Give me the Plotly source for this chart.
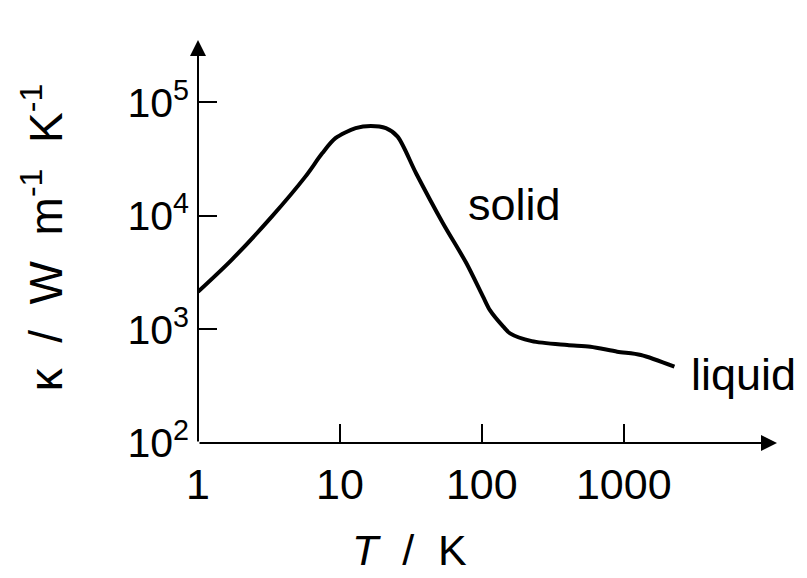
import plotly.graph_objects as go

# Data (log-log)
T_K = [1, 1.72, 3.31, 5.71, 7.5, 9.3, 12.9, 16.5, 21.1, 25.5, 34.4, 53.2, 77.9,
       102, 114, 141.7, 158, 225, 400, 583, 900, 1321, 2275]
kappa = [2150, 4090, 9860, 22200, 35600, 48400, 59300, 62100, 59300, 50000, 23800,
         8630, 3830, 1946, 1480, 1059, 925, 790, 730, 705, 637, 596, 470]

x_labelvals = [1, 10, 100, 1000]
x_ticktext = ["1", "10", "100", "1000"]
y_labelvals = [1e2, 1e3, 1e4, 1e5]
y_ticktext = ["10<sup>2</sup>", "10<sup>3</sup>", "10<sup>4</sup>", "10<sup>5</sup>"]

FONT = "Liberation Sans, Arial, Helvetica, sans-serif"

fig = go.Figure()
fig.add_trace(go.Scatter(x=T_K, y=kappa, mode="lines",
                         line=dict(color="black", width=4, shape="spline", smoothing=0.8),
                         showlegend=False, hoverinfo="skip"))

fig.update_layout(
    width=807, height=578,
    margin=dict(l=198, r=30, t=40, b=135),
    paper_bgcolor="white", plot_bgcolor="white",
    font=dict(family=FONT, color="black"),
    xaxis=dict(type="log", range=[0, 4.08], showgrid=False, zeroline=False,
               showline=False, ticks="inside", ticklen=19, tickwidth=1.5,
               tickcolor="black", tickvals=x_labelvals, ticktext=x_ticktext,
               tickfont=dict(size=43, family=FONT), ticklabelstandoff=12),
    yaxis=dict(type="log", range=[2, 5.55], showgrid=False, zeroline=False,
               showline=False, ticks="inside", ticklen=19, tickwidth=1.5,
               tickcolor="black", tickvals=y_labelvals, ticktext=y_ticktext,
               tickfont=dict(size=41, family=FONT), ticklabelstandoff=8),
)

# Axis lines with arrowheads
fig.add_annotation(x=1, y=0, ax=0, ay=0, xref="x domain", yref="y domain",
                   axref="x domain", ayref="y domain", text="", showarrow=True,
                   arrowhead=2, arrowsize=1.6, arrowwidth=2, arrowcolor="black",
                   standoff=0, startstandoff=0)
fig.add_annotation(x=0, y=1, ax=0, ay=0, xref="x domain", yref="y domain",
                   axref="x domain", ayref="y domain", text="", showarrow=True,
                   arrowhead=2, arrowsize=1.6, arrowwidth=2, arrowcolor="black",
                   standoff=0, startstandoff=0)

# Curve labels
fig.add_annotation(x=2.23, y=4.1, xref="x", yref="y", text="solid", showarrow=False,
                   font=dict(size=45, family=FONT), xanchor="center", yanchor="middle")
fig.add_annotation(x=3.46, y=2.6, xref="x", yref="y", text="liquid", showarrow=False,
                   font=dict(size=45, family=FONT), xanchor="left", yanchor="middle")

# Axis titles
fig.add_annotation(x=-0.268, y=0.51, xref="paper", yref="paper",
                   text="κ&nbsp;&nbsp;/&nbsp;&nbsp;W&nbsp;&nbsp;m<sup>-1</sup>&nbsp;&nbsp;K<sup>-1</sup>",
                   showarrow=False, textangle=-90, font=dict(size=46, family=FONT),
                   xanchor="center", yanchor="middle")
fig.add_annotation(x=0.365, y=-0.265, xref="paper", yref="paper",
                   text="<i>T</i>&nbsp;&nbsp;/&nbsp;&nbsp;K", showarrow=False,
                   font=dict(size=43, family=FONT),
                   xanchor="center", yanchor="middle")

fig.write_html("out.html")
